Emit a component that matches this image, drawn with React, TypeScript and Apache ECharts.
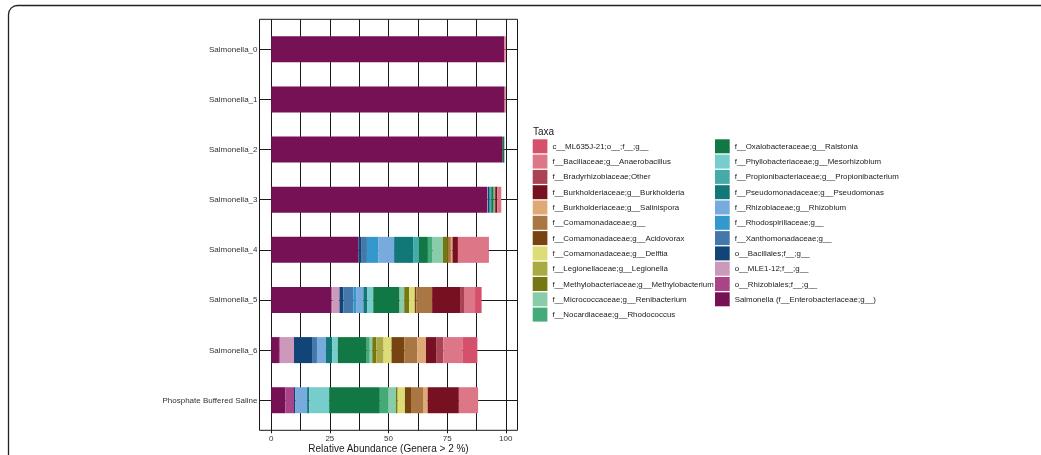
import React, { useEffect, useRef } from "react";
import * as echarts from "echarts";

// Samples, top to bottom
const samples = [
  "Salmonella_0",
  "Salmonella_1",
  "Salmonella_2",
  "Salmonella_3",
  "Salmonella_4",
  "Salmonella_5",
  "Salmonella_6",
  "Phosphate Buffered Saline",
];

// Taxa in legend order
const taxa = [
  "c__ML635J-21;o__;f__;g__",
  "f__Bacillaceae;g__Anaerobacillus",
  "f__Bradyrhizobiaceae;Other",
  "f__Burkholderiaceae;g__Burkholderia",
  "f__Burkholderiaceae;g__Salinispora",
  "f__Comamonadaceae;g__",
  "f__Comamonadaceae;g__Acidovorax",
  "f__Comamonadaceae;g__Delftia",
  "f__Legionellaceae;g__Legionella",
  "f__Methylobacteriaceae;g__Methylobacterium",
  "f__Micrococcaceae;g__Renibacterium",
  "f__Nocardiaceae;g__Rhodococcus",
  "f__Oxalobacteraceae;g__Ralstonia",
  "f__Phyllobacteriaceae;g__Mesorhizobium",
  "f__Propionibacteriaceae;g__Propionibacterium",
  "f__Pseudomonadaceae;g__Pseudomonas",
  "f__Rhizobiaceae;g__Rhizobium",
  "f__Rhodospirillaceae;g__",
  "f__Xanthomonadaceae;g__",
  "o__Bacillales;f__;g__",
  "o__MLE1-12;f__;g__",
  "o__Rhizobiales;f__;g__",
  "Salmonella (f__Enterobacteriaceae;g__)",
];

const colors = [
  "#D5506A",
  "#DD7788",
  "#AA4455",
  "#771122",
  "#DDAA77",
  "#AA7744",
  "#774411",
  "#DDDD77",
  "#AAAA44",
  "#777711",
  "#88CCAA",
  "#44AA77",
  "#117744",
  "#77CCCC",
  "#44AAAA",
  "#117777",
  "#77AADD",
  "#3399CC",
  "#4477AA",
  "#114477",
  "#CC99BB",
  "#AA4488",
  "#771155",
];

// Relative abundance (%) per taxon, one value per sample (same order as samples)
const mL635J = [0, 0, 0, 0, 0.3, 2.8, 6.4, 0];
const anaerobacillus = [0.6, 0.5, 0, 1.7, 12.9, 4.7, 8.1, 8.2];
const bradyrhizobiaceae = [0, 0, 0, 0, 0, 1.7, 3.1, 0];
const burkholderia = [0, 0, 0, 0.9, 2.3, 11.9, 4.3, 13.3];
const salinispora = [0, 0, 0, 0, 0.7, 0, 3.8, 2.0];
const comamonadaceae = [0, 0, 0, 0.3, 1.3, 6.7, 5.4, 5.1];
const acidovorax = [0, 0, 0, 0, 0, 0.7, 5.5, 2.6];
const delftia = [0, 0, 0, 0, 0, 2.4, 3.4, 3.1];
const legionella = [0, 0, 0, 0, 0, 0, 3.1, 0];
const methylobacterium = [0, 0, 0, 0, 2.1, 2.1, 1.7, 0.7];
const renibacterium = [0, 0, 0, 0, 4.4, 2.0, 1.1, 3.4];
const rhodococcus = [0, 0, 0, 0.4, 2.0, 0, 1.3, 3.5];
const ralstonia = [0, 0, 0.7, 1.0, 3.8, 11.2, 12.3, 21.6];
const mesorhizobium = [0, 0, 0, 0, 0, 2.5, 2.4, 8.5];
const propionibacterium = [0, 0, 0, 0.5, 2.5, 0, 0, 0];
const pseudomonas = [0, 0, 0, 0, 8.1, 1.7, 2.7, 0.9];
const rhizobium = [0, 0, 0, 0, 6.8, 3.1, 3.8, 5.0];
const rhodospirillaceae = [0, 0, 0, 0, 4.8, 1.1, 0, 0];
const xanthomonadaceae = [0, 0, 0, 0.4, 2.5, 4.3, 2.1, 0];
const bacillales = [0, 0, 0, 0.6, 1.1, 1.7, 7.7, 0.6];
const mle112 = [0, 0, 0, 0.3, 0, 3.0, 6.0, 0];
const rhizobiales = [0, 0, 0, 0, 0, 0.4, 0.4, 3.7];
const salmonella = [99.4, 99.5, 98.7, 92.0, 37.2, 25.7, 3.3, 6.0];

const values = [
  mL635J,
  anaerobacillus,
  bradyrhizobiaceae,
  burkholderia,
  salinispora,
  comamonadaceae,
  acidovorax,
  delftia,
  legionella,
  methylobacterium,
  renibacterium,
  rhodococcus,
  ralstonia,
  mesorhizobium,
  propionibacterium,
  pseudomonas,
  rhizobium,
  rhodospirillaceae,
  xanthomonadaceae,
  bacillales,
  mle112,
  rhizobiales,
  salmonella,
];

const xTicks = [0, 25, 50, 75, 100];
const xGrid = [0, 12.5, 25, 37.5, 50, 62.5, 75, 87.5, 100];

const FONT = "Liberation Sans, Arial, Helvetica, sans-serif";
const LINE = "#1a1a1a";

// Panel box and the inner band that holds the category slots
const PANEL_LEFT = 259.5;
const PANEL_RIGHT = 517.5;
const PANEL_TOP = 19.3;
const PANEL_BOTTOM = 430.3;
const SLOT = (PANEL_BOTTOM - PANEL_TOP) / (samples.length - 1 + 1.2);
const BAND_TOP = PANEL_TOP + 0.1 * SLOT;
const BAND_BOTTOM = PANEL_BOTTOM - 0.1 * SLOT;

export default function App() {
  const ref = useRef<HTMLDivElement>(null);

  useEffect(() => {
    if (!ref.current) return;
    const chart = echarts.init(ref.current, undefined, { renderer: "svg" });

    // Stack from the left starting with the last taxon in the legend
    const stackOrder = taxa.map((_, i) => i).reverse();
    const barSeries = stackOrder.map((i) => ({
      name: taxa[i],
      type: "bar" as const,
      stack: "total",
      barWidth: 26,
      z: 5,
      xAxisIndex: 0,
      yAxisIndex: 0,
      itemStyle: { color: colors[i] },
      data: values[i].map((v) => (v > 0 ? v : null)),
    }));

    // Horizontal grid lines at each sample
    const rowLines = {
      type: "line" as const,
      name: "__rows",
      data: [],
      z: 1,
      xAxisIndex: 0,
      yAxisIndex: 0,
      silent: true,
      markLine: {
        silent: true,
        z: 1,
        symbol: "none",
        label: { show: false },
        lineStyle: { color: LINE, width: 1, type: "solid" as const },
        data: samples.map((s) => ({ yAxis: s })),
      },
    };

    // Vertical grid lines across the whole panel
    const colLines = {
      type: "line" as const,
      name: "__cols",
      data: [],
      z: 1,
      xAxisIndex: 1,
      yAxisIndex: 1,
      silent: true,
      markLine: {
        silent: true,
        z: 1,
        symbol: "none",
        label: { show: false },
        lineStyle: { color: LINE, width: 1, type: "solid" as const },
        data: xGrid.map((v) => ({ xAxis: v })),
      },
    };

    const leftNames = taxa.slice(0, 12);
    const rightNames = taxa.slice(12);
    const legendBase = {
      orient: "vertical" as const,
      top: 139.3,
      itemWidth: 14.7,
      itemHeight: 14,
      itemGap: 1.3,
      icon: "rect",
      selectedMode: false,
      padding: 0,
      textStyle: { fontSize: 7.9, color: "#1a1a1a", fontFamily: FONT },
    };

    chart.setOption({
      animation: false,
      textStyle: { fontFamily: FONT },
      grid: [
        {
          left: PANEL_LEFT,
          right: 1041 - PANEL_RIGHT,
          top: BAND_TOP,
          bottom: 455 - BAND_BOTTOM,
          outerBoundsMode: "none",
          containLabel: false,
          show: false,
        },
        {
          left: PANEL_LEFT,
          right: 1041 - PANEL_RIGHT,
          top: PANEL_TOP,
          bottom: 455 - PANEL_BOTTOM,
          outerBoundsMode: "none",
          containLabel: false,
          show: true,
          borderColor: LINE,
          borderWidth: 1,
          backgroundColor: "transparent",
        },
      ],
      xAxis: [
        {
          gridIndex: 0,
          type: "value",
          min: -5,
          max: 105,
          show: false,
        },
        {
          gridIndex: 1,
          type: "value",
          min: -5,
          max: 105,
          name: "Relative Abundance (Genera > 2 %)",
          nameLocation: "middle",
          nameGap: 13,
          nameMoveOverlap: false,
          nameTextStyle: {
            fontSize: 10,
            color: "#1a1a1a",
            fontFamily: FONT,
            verticalAlign: "top",
          },
          axisLine: { show: false },
          splitLine: { show: false },
          axisTick: {
            show: true,
            length: 3,
            customValues: xTicks,
            lineStyle: { color: LINE, width: 1 },
          },
          axisLabel: {
            customValues: xTicks,
            fontSize: 8,
            color: "#333",
            margin: 4,
            fontFamily: FONT,
          },
        },
      ],
      yAxis: [
        {
          gridIndex: 0,
          type: "category",
          data: samples,
          inverse: true,
          axisLine: { show: false },
          splitLine: { show: false },
          axisTick: {
            show: true,
            alignWithLabel: true,
            length: 4,
            lineStyle: { color: LINE, width: 1 },
          },
          axisLabel: {
            fontSize: 8,
            color: "#333",
            margin: 2,
            fontFamily: FONT,
          },
        },
        {
          gridIndex: 1,
          type: "value",
          min: 0,
          max: 1,
          show: false,
        },
      ],
      legend: [
        { ...legendBase, left: 532.7, data: leftNames },
        { ...legendBase, left: 715, data: rightNames },
      ],
      graphic: [
        {
          type: "rect",
          shape: { x: 8.5, y: 5.5, width: 1100, height: 500, r: 9 },
          style: { fill: "none", stroke: "#222", lineWidth: 1.3 },
          silent: true,
        },
        {
          type: "text",
          left: 533,
          top: 126.5,
          style: { text: "Taxa", fontSize: 10, fill: "#1a1a1a", fontFamily: FONT },
        },
      ],
      series: [colLines, rowLines, ...barSeries],
    });

    return () => chart.dispose();
  }, []);

  return (
    <div
      ref={ref}
      style={{ position: "fixed", left: 0, top: 0, width: 1041, height: 455 }}
    />
  );
}
